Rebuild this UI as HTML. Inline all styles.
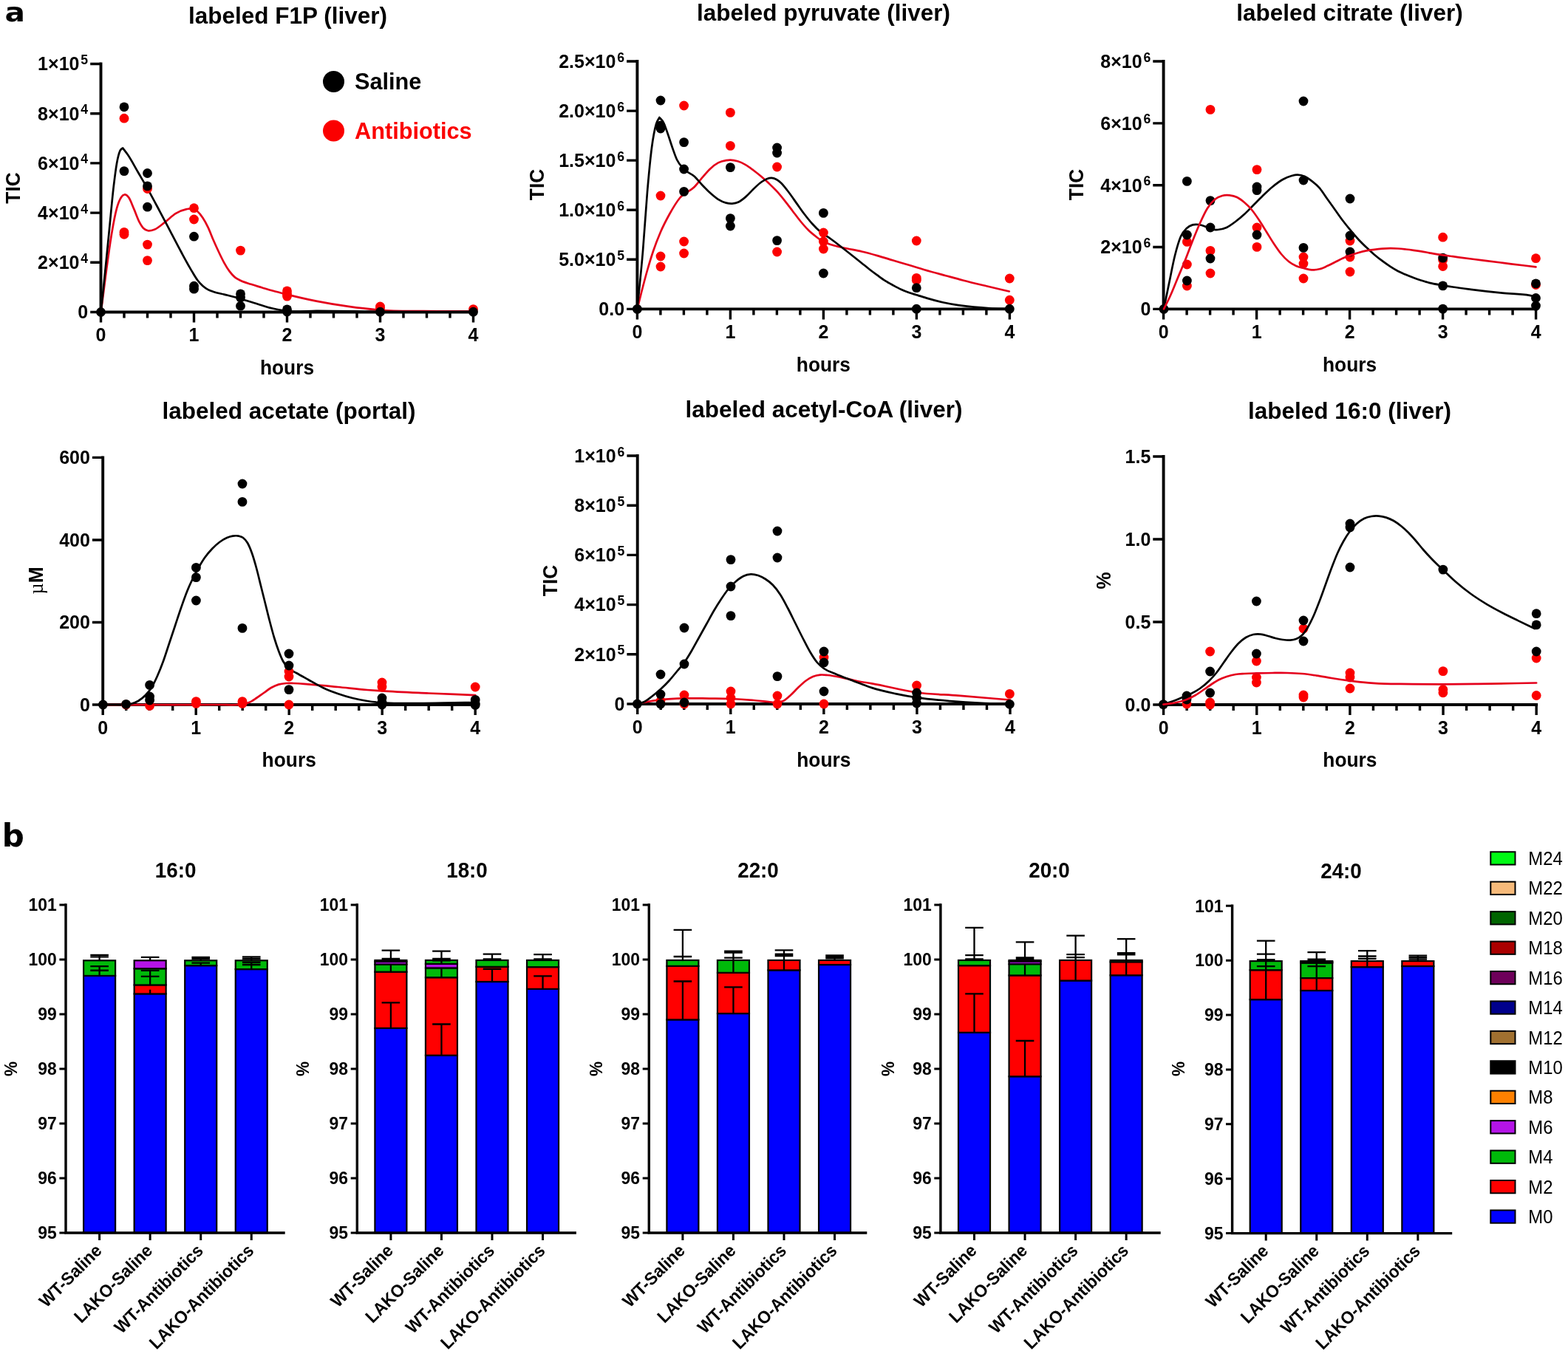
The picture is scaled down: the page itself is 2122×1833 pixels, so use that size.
<!DOCTYPE html>
<html lang="en">
<head>
<meta charset="utf-8">
<title>Figure: labeled metabolites time course and fatty acid labeling</title>
<style>
html,body{margin:0;padding:0;background:#fff;}
body{width:2122px;height:1833px;overflow:hidden;}
svg{display:block;}
text{font-family:"Liberation Sans",Arial,Helvetica,sans-serif;font-weight:bold;fill:#000;}
.t{font-size:31.5px;}
.tb{font-size:29.3px;}
.k{font-size:26.2px;}
.kb{font-size:24px;}
.s{font-size:18.5px;}
.a{font-size:27.6px;}
.r{font-size:23.8px;}
.lg{font-size:30.7px;}
.m{font-size:25px;font-weight:normal;}
.mu{font-family:"Liberation Serif","DejaVu Serif",serif;font-weight:normal;}
.pl{font-family:"DejaVu Sans","Liberation Sans",sans-serif;font-size:37px;}
</style>
</head>
<body>
<svg xmlns="http://www.w3.org/2000/svg" width="2122" height="1833" viewBox="0 0 2122 1833">
<rect x="0" y="0" width="2122" height="1833" fill="#fff"/>
<text transform="translate(6.6 29.3) scale(1.13 1)" class="pl" style="font-size:36px">a</text>
<text transform="translate(2.8 1145.6) scale(1 1)" class="pl" style="font-size:42px">b</text>
<text x="389.5" y="31.8" class="t" text-anchor="middle">labeled F1P (liver)</text>
<path d="M136.5 86.5V422.5H640.5" fill="none" stroke="#000" stroke-width="3.9" stroke-linecap="square" stroke-linejoin="miter"/>
<path d="M122.2 422.5H136.5M122.2 355.3H136.5M122.2 288.1H136.5M122.2 220.9H136.5M122.2 153.7H136.5M122.2 86.5H136.5M136.5 422.5V436.5M168 422.5V430.5M199.5 422.5V430.5M231 422.5V430.5M262.5 422.5V436.5M294 422.5V430.5M325.5 422.5V430.5M357 422.5V430.5M388.5 422.5V436.5M420 422.5V430.5M451.5 422.5V430.5M483 422.5V430.5M514.5 422.5V436.5M546 422.5V430.5M577.5 422.5V430.5M609 422.5V430.5M640.5 422.5V436.5" fill="none" stroke="#000" stroke-width="3.4"/>
<path d="M136.61 422.91C138.93 404.89 141.26 386.02 143.58 368.86C146 350.99 148.43 332.54 150.85 318.01C153.27 303.49 155.69 290.44 158.11 281.69C160.05 274.7 161.99 270.16 163.92 267.17C165.38 264.92 166.83 263.84 168.28 263.54C170.22 263.13 172.15 264.6 174.09 267.17C176.51 270.38 178.93 277.58 181.36 283.15C183.78 288.72 186.2 295.98 188.62 300.58C190.56 304.26 192.49 307.36 194.43 309.3C196.37 311.23 198.31 311.75 200.24 312.2C203.15 312.88 206.05 311.82 208.96 310.75C213.8 308.97 218.64 304.21 223.49 300.58C228.33 296.95 233.17 291.86 238.01 288.96C242.86 286.05 247.7 284.13 252.54 283.15C254.48 282.75 256.42 282.24 258.35 282.42C261.26 282.69 264.16 283.6 267.07 286.05C269.49 288.1 271.91 291.14 274.33 294.77C276.76 298.4 279.18 302.76 281.6 307.85C284.02 312.93 286.44 319.71 288.86 325.28C291.28 330.85 293.7 336.17 296.13 341.26C298.55 346.34 300.97 351.43 303.39 355.79C305.81 360.15 308.23 364.14 310.65 367.41C313.08 370.68 315.5 373.36 317.92 375.4C320.44 377.52 322.95 378.5 325.47 379.76C330.22 382.13 334.96 383.28 339.71 384.84C344.55 386.44 349.39 387.75 354.24 389.2C359.08 390.65 363.92 392.19 368.77 393.56C375.3 395.41 381.84 397.02 388.38 398.64C401.62 401.94 414.87 405.05 428.11 407.68C442.64 410.56 457.17 412.92 471.69 414.94C485.98 416.93 500.27 418.66 514.55 419.73C534.16 421.21 553.78 420.89 573.39 421.19C595.76 421.53 618.14 421.38 640.51 421.48" fill="none" stroke="#e4001c" stroke-width="2.7" stroke-linejoin="round" stroke-linecap="round"/>
<path d="M136.61 422.91C138.45 404.89 140.29 387.07 142.13 368.86C144.07 349.7 146 330.12 147.94 310.75C149.88 291.38 151.82 269.06 153.75 252.64C155.21 240.33 156.66 228.79 158.11 220.68C159.56 212.57 161.02 207.29 162.47 203.97C163.68 201.2 164.89 201.55 166.1 200.34C168.28 203.24 170.46 205.9 172.64 209.06C177.48 216.06 182.32 225.46 187.17 233.75C191.38 240.97 195.59 248.03 199.81 255.54C205.28 265.3 210.75 275.76 216.22 286.05C221.07 295.16 225.91 304.46 230.75 313.66C235.59 322.86 240.44 332.3 245.28 341.26C250.12 350.22 254.96 359.34 259.81 367.41C262.23 371.44 264.65 375.76 267.07 379.03C269.49 382.3 271.91 384.84 274.33 387.02C276.76 389.2 279.18 390.77 281.6 392.11C284.02 393.44 286.44 394.16 288.86 395.01C293.7 396.71 298.55 397.43 303.39 398.64C308.23 399.85 313.08 400.94 317.92 402.28C320.44 402.97 322.95 403.72 325.47 404.46C332.64 406.55 339.81 408.83 346.97 410.99C354.24 413.19 361.5 415.79 368.77 417.53C375.3 419.1 381.84 420.37 388.38 421.16C401.62 422.76 414.87 420.79 428.11 420.75C456.92 420.67 485.74 421.68 514.55 421.91C556.54 422.25 598.52 421.91 640.51 421.91" fill="none" stroke="#000" stroke-width="2.7" stroke-linejoin="round" stroke-linecap="round"/>
<circle cx="168" cy="160.2" r="6.4" fill="#fb0000"/>
<circle cx="168" cy="314.4" r="6.4" fill="#fb0000"/>
<circle cx="168" cy="317.3" r="6.4" fill="#fb0000"/>
<circle cx="199.5" cy="255.5" r="6.4" fill="#fb0000"/>
<circle cx="199.5" cy="331.1" r="6.4" fill="#fb0000"/>
<circle cx="199.5" cy="352.6" r="6.4" fill="#fb0000"/>
<circle cx="262.5" cy="281.7" r="6.4" fill="#fb0000"/>
<circle cx="262.5" cy="297" r="6.4" fill="#fb0000"/>
<circle cx="325.5" cy="339.1" r="6.4" fill="#fb0000"/>
<circle cx="388.5" cy="393.9" r="6.4" fill="#fb0000"/>
<circle cx="388.5" cy="397.5" r="6.4" fill="#fb0000"/>
<circle cx="388.5" cy="401.1" r="6.4" fill="#fb0000"/>
<circle cx="514.5" cy="415" r="6.4" fill="#fb0000"/>
<circle cx="514.5" cy="418" r="6.4" fill="#fb0000"/>
<circle cx="640.5" cy="418.6" r="6.4" fill="#fb0000"/>
<circle cx="136.5" cy="422.5" r="6.4" fill="#000"/>
<circle cx="168" cy="144.8" r="6.4" fill="#000"/>
<circle cx="168" cy="231.6" r="6.4" fill="#000"/>
<circle cx="199.5" cy="234.5" r="6.4" fill="#000"/>
<circle cx="199.5" cy="251.9" r="6.4" fill="#000"/>
<circle cx="199.5" cy="280.2" r="6.4" fill="#000"/>
<circle cx="262.5" cy="320.2" r="6.4" fill="#000"/>
<circle cx="262.5" cy="387.2" r="6.4" fill="#000"/>
<circle cx="262.5" cy="391.2" r="6.4" fill="#000"/>
<circle cx="325.5" cy="397.9" r="6.4" fill="#000"/>
<circle cx="325.5" cy="403" r="6.4" fill="#000"/>
<circle cx="325.5" cy="414.2" r="6.4" fill="#000"/>
<circle cx="388.5" cy="418.8" r="6.4" fill="#000"/>
<circle cx="388.5" cy="422" r="6.4" fill="#000"/>
<circle cx="514.5" cy="422.2" r="6.4" fill="#000"/>
<circle cx="640.5" cy="422.2" r="6.4" fill="#000"/>
<text transform="translate(119.2 431.3) scale(0.955 1)" class="k" text-anchor="end">0</text>
<text transform="translate(119.2 364.1) scale(0.955 1)" class="k" text-anchor="end">2×10<tspan class="s" dx="2" dy="-8.3">4</tspan></text>
<text transform="translate(119.2 296.9) scale(0.955 1)" class="k" text-anchor="end">4×10<tspan class="s" dx="2" dy="-8.3">4</tspan></text>
<text transform="translate(119.2 229.7) scale(0.955 1)" class="k" text-anchor="end">6×10<tspan class="s" dx="2" dy="-8.3">4</tspan></text>
<text transform="translate(119.2 162.5) scale(0.955 1)" class="k" text-anchor="end">8×10<tspan class="s" dx="2" dy="-8.3">4</tspan></text>
<text transform="translate(119.2 95.3) scale(0.955 1)" class="k" text-anchor="end">1×10<tspan class="s" dx="2" dy="-8.3">5</tspan></text>
<text transform="translate(136.5 462) scale(0.955 1)" class="k" text-anchor="middle">0</text>
<text transform="translate(262.5 462) scale(0.955 1)" class="k" text-anchor="middle">1</text>
<text transform="translate(388.5 462) scale(0.955 1)" class="k" text-anchor="middle">2</text>
<text transform="translate(514.5 462) scale(0.955 1)" class="k" text-anchor="middle">3</text>
<text transform="translate(640.5 462) scale(0.955 1)" class="k" text-anchor="middle">4</text>
<text transform="translate(388.5 506.5) scale(0.955 1)" class="a" text-anchor="middle">hours</text>
<text transform="translate(27 254.5) rotate(-90) scale(0.955 1)" class="a" text-anchor="middle">TIC</text>
<text x="1114.5" y="28" class="t" text-anchor="middle">labeled pyruvate (liver)</text>
<path d="M862.4 83V418.4H1366.4" fill="none" stroke="#000" stroke-width="3.9" stroke-linecap="square" stroke-linejoin="miter"/>
<path d="M848.1 418.4H862.4M848.1 351.32H862.4M848.1 284.24H862.4M848.1 217.16H862.4M848.1 150.08H862.4M848.1 83H862.4M862.4 418.4V432.4M893.9 418.4V426.4M925.4 418.4V426.4M956.9 418.4V426.4M988.4 418.4V432.4M1019.9 418.4V426.4M1051.4 418.4V426.4M1082.9 418.4V426.4M1114.4 418.4V432.4M1145.9 418.4V426.4M1177.4 418.4V426.4M1208.9 418.4V426.4M1240.4 418.4V432.4M1271.9 418.4V426.4M1303.4 418.4V426.4M1334.9 418.4V426.4M1366.4 418.4V432.4" fill="none" stroke="#000" stroke-width="3.4"/>
<path d="M862.4 418.4C864.27 410.93 866.13 403.27 868 396C870.67 385.61 873.33 375.33 876 366C878.67 356.67 881.33 347.9 884 340C887.33 330.13 890.67 321.76 894 314C898 304.69 902 297.21 906 290C910.67 281.59 915.33 273.77 920 268C926.67 259.75 933.33 259.78 940 252.8C943.53 249.1 947.07 244.17 950.6 240.1C954.13 236.03 957.67 231.67 961.2 228.4C964.77 225.1 968.33 222.27 971.9 220.4C975.43 218.55 978.97 217.77 982.5 217.2C984.43 216.89 986.37 216.69 988.3 216.7C991.67 216.71 995.03 217.28 998.4 218.3C1001.93 219.37 1005.47 221.07 1009 223.1C1012.53 225.13 1016.07 227.86 1019.6 230.5C1023.17 233.16 1026.73 235.97 1030.3 239C1033.83 242 1037.37 245.23 1040.9 248.6C1044.43 251.97 1047.97 255.32 1051.5 259.2C1055.03 263.08 1058.57 267.48 1062.1 271.9C1065.63 276.32 1069.17 281.1 1072.7 285.7C1076.23 290.3 1079.77 295.22 1083.3 299.5C1086.87 303.82 1090.43 307.99 1094 311.5C1097.53 314.98 1101.07 317.77 1104.6 320.5C1107.83 323 1111.07 325.53 1114.3 327.3C1118.13 329.4 1121.97 330.28 1125.8 331.5C1131.1 333.18 1136.4 334.27 1141.7 335.5C1149.87 337.4 1158.03 338.57 1166.2 340.5C1173.27 342.17 1180.33 344.11 1187.4 346.1C1194.5 348.1 1201.6 350.38 1208.7 352.5C1215.77 354.61 1222.83 356.68 1229.9 358.8C1236.97 360.92 1244.03 363.14 1251.1 365.2C1260.73 368.01 1270.37 370.56 1280 373.2C1287.73 375.32 1295.47 377.49 1303.2 379.5C1313.8 382.26 1324.4 384.76 1335 387.3C1345.27 389.76 1355.53 392.1 1365.8 394.5" fill="none" stroke="#e4001c" stroke-width="2.7" stroke-linejoin="round" stroke-linecap="round"/>
<path d="M862.4 418.4C864.93 392.27 867.47 370.41 870 340C872 316 874 283.33 876 260C878 236.67 880 215.33 882 200C884 184.67 886 174.87 888 168C889.47 162.96 890.93 162 892.4 159C894.27 161.33 896.13 162.39 898 166C900 169.87 902 176.33 904 182C906 187.67 908 194.33 910 200C912 205.67 914 211.68 916 216C919.2 222.92 922.4 225.51 925.6 229C930.4 234.23 935.2 234.53 940 239C943.53 242.29 947.07 246.98 950.6 250.7C954.13 254.42 957.67 258.13 961.2 261.3C964.77 264.5 968.33 267.58 971.9 269.8C975.43 272 978.97 273.66 982.5 274.6C985.33 275.36 988.17 275.78 991 275.6C993.83 275.42 996.67 274.84 999.5 273.5C1002.67 272 1005.83 269.31 1009 266.6C1012.53 263.58 1016.07 259.34 1019.6 256C1023.17 252.63 1026.73 249.02 1030.3 246.5C1032.77 244.76 1035.23 243.13 1037.7 242.2C1039.83 241.39 1041.97 240.81 1044.1 240.9C1046.2 240.99 1048.3 241.62 1050.4 242.7C1052.53 243.8 1054.67 245.53 1056.8 247.5C1060.33 250.76 1063.87 255.7 1067.4 260.3C1070.93 264.9 1074.47 270.17 1078 275.1C1081.57 280.07 1085.13 285.33 1088.7 290C1092.23 294.63 1095.77 299.08 1099.3 303C1102.83 306.92 1106.37 310.46 1109.9 313.5C1114.5 317.45 1119.1 319.66 1123.7 323C1127.23 325.56 1130.77 328.3 1134.3 331C1137.83 333.7 1141.37 336.43 1144.9 339.2C1148.47 342 1152.03 344.85 1155.6 347.7C1159.13 350.52 1162.67 353.37 1166.2 356.2C1169.73 359.03 1173.27 361.97 1176.8 364.7C1180.33 367.43 1183.87 370.03 1187.4 372.6C1190.93 375.17 1194.47 377.84 1198 380.1C1201.57 382.38 1205.13 384.26 1208.7 386.2C1212.23 388.12 1215.77 390.07 1219.3 391.7C1222.83 393.33 1226.37 394.72 1229.9 396C1233.37 397.25 1236.83 398.22 1240.3 399.3C1244.97 400.76 1249.63 402.25 1254.3 403.6C1261.4 405.66 1268.5 407.61 1275.6 409.2C1282.67 410.78 1289.73 412.02 1296.8 413.1C1303.87 414.18 1310.93 415 1318 415.7C1325.1 416.4 1332.2 416.9 1339.3 417.3C1348.3 417.81 1357.3 417.9 1366.3 418.2" fill="none" stroke="#000" stroke-width="2.7" stroke-linejoin="round" stroke-linecap="round"/>
<circle cx="894" cy="265" r="6.4" fill="#fb0000"/>
<circle cx="894" cy="347" r="6.4" fill="#fb0000"/>
<circle cx="894" cy="361" r="6.4" fill="#fb0000"/>
<circle cx="925.6" cy="143" r="6.4" fill="#fb0000"/>
<circle cx="925.6" cy="327" r="6.4" fill="#fb0000"/>
<circle cx="925.6" cy="343" r="6.4" fill="#fb0000"/>
<circle cx="988.4" cy="152.4" r="6.4" fill="#fb0000"/>
<circle cx="988.4" cy="197.4" r="6.4" fill="#fb0000"/>
<circle cx="1051.6" cy="226" r="6.4" fill="#fb0000"/>
<circle cx="1051.6" cy="341" r="6.4" fill="#fb0000"/>
<circle cx="1114.4" cy="315" r="6.4" fill="#fb0000"/>
<circle cx="1114.4" cy="327" r="6.4" fill="#fb0000"/>
<circle cx="1114.4" cy="337" r="6.4" fill="#fb0000"/>
<circle cx="1240.3" cy="326" r="6.4" fill="#fb0000"/>
<circle cx="1240.3" cy="376.4" r="6.4" fill="#fb0000"/>
<circle cx="1240.3" cy="379.3" r="6.4" fill="#fb0000"/>
<circle cx="1366.3" cy="377" r="6.4" fill="#fb0000"/>
<circle cx="1366.3" cy="406.2" r="6.4" fill="#fb0000"/>
<circle cx="862.4" cy="418.4" r="6.4" fill="#000"/>
<circle cx="894" cy="136" r="6.4" fill="#000"/>
<circle cx="894" cy="170" r="6.4" fill="#000"/>
<circle cx="894" cy="174" r="6.4" fill="#000"/>
<circle cx="925.6" cy="192.6" r="6.4" fill="#000"/>
<circle cx="925.6" cy="229" r="6.4" fill="#000"/>
<circle cx="925.6" cy="259.4" r="6.4" fill="#000"/>
<circle cx="988.4" cy="226.6" r="6.4" fill="#000"/>
<circle cx="988.4" cy="295.6" r="6.4" fill="#000"/>
<circle cx="988.4" cy="306" r="6.4" fill="#000"/>
<circle cx="1051.6" cy="200" r="6.4" fill="#000"/>
<circle cx="1051.6" cy="207" r="6.4" fill="#000"/>
<circle cx="1051.6" cy="325.6" r="6.4" fill="#000"/>
<circle cx="1114.4" cy="288.4" r="6.4" fill="#000"/>
<circle cx="1114.4" cy="370" r="6.4" fill="#000"/>
<circle cx="1240.3" cy="389.7" r="6.4" fill="#000"/>
<circle cx="1240.3" cy="418.2" r="6.4" fill="#000"/>
<circle cx="1366.3" cy="418.2" r="6.4" fill="#000"/>
<text transform="translate(845.1 427.2) scale(0.955 1)" class="k" text-anchor="end">0.0</text>
<text transform="translate(845.1 360.12) scale(0.955 1)" class="k" text-anchor="end">5.0×10<tspan class="s" dx="2" dy="-8.3">5</tspan></text>
<text transform="translate(845.1 293.04) scale(0.955 1)" class="k" text-anchor="end">1.0×10<tspan class="s" dx="2" dy="-8.3">6</tspan></text>
<text transform="translate(845.1 225.96) scale(0.955 1)" class="k" text-anchor="end">1.5×10<tspan class="s" dx="2" dy="-8.3">6</tspan></text>
<text transform="translate(845.1 158.88) scale(0.955 1)" class="k" text-anchor="end">2.0×10<tspan class="s" dx="2" dy="-8.3">6</tspan></text>
<text transform="translate(845.1 91.8) scale(0.955 1)" class="k" text-anchor="end">2.5×10<tspan class="s" dx="2" dy="-8.3">6</tspan></text>
<text transform="translate(862.4 457.9) scale(0.955 1)" class="k" text-anchor="middle">0</text>
<text transform="translate(988.4 457.9) scale(0.955 1)" class="k" text-anchor="middle">1</text>
<text transform="translate(1114.4 457.9) scale(0.955 1)" class="k" text-anchor="middle">2</text>
<text transform="translate(1240.4 457.9) scale(0.955 1)" class="k" text-anchor="middle">3</text>
<text transform="translate(1366.4 457.9) scale(0.955 1)" class="k" text-anchor="middle">4</text>
<text transform="translate(1114.4 502.5) scale(0.955 1)" class="a" text-anchor="middle">hours</text>
<text transform="translate(736 250) rotate(-90) scale(0.955 1)" class="a" text-anchor="middle">TIC</text>
<text x="1826.5" y="28" class="t" text-anchor="middle">labeled citrate (liver)</text>
<path d="M1574.6 83V418.4H2078.6" fill="none" stroke="#000" stroke-width="3.9" stroke-linecap="square" stroke-linejoin="miter"/>
<path d="M1560.3 418.4H1574.6M1560.3 334.55H1574.6M1560.3 250.7H1574.6M1560.3 166.85H1574.6M1560.3 83H1574.6M1574.6 418.4V432.4M1606.1 418.4V426.4M1637.6 418.4V426.4M1669.1 418.4V426.4M1700.6 418.4V432.4M1732.1 418.4V426.4M1763.6 418.4V426.4M1795.1 418.4V426.4M1826.6 418.4V432.4M1858.1 418.4V426.4M1889.6 418.4V426.4M1921.1 418.4V426.4M1952.6 418.4V432.4M1984.1 418.4V426.4M2015.6 418.4V426.4M2047.1 418.4V426.4M2078.6 418.4V432.4" fill="none" stroke="#000" stroke-width="3.4"/>
<circle cx="1606.4" cy="327.4" r="6.4" fill="#fb0000"/>
<circle cx="1606.4" cy="358" r="6.4" fill="#fb0000"/>
<circle cx="1606.4" cy="387" r="6.4" fill="#fb0000"/>
<circle cx="1638" cy="148.4" r="6.4" fill="#fb0000"/>
<circle cx="1638" cy="339.4" r="6.4" fill="#fb0000"/>
<circle cx="1638" cy="370" r="6.4" fill="#fb0000"/>
<circle cx="1701" cy="229.6" r="6.4" fill="#fb0000"/>
<circle cx="1701" cy="308" r="6.4" fill="#fb0000"/>
<circle cx="1701" cy="334.4" r="6.4" fill="#fb0000"/>
<circle cx="1764" cy="348" r="6.4" fill="#fb0000"/>
<circle cx="1764" cy="357" r="6.4" fill="#fb0000"/>
<circle cx="1764" cy="377" r="6.4" fill="#fb0000"/>
<circle cx="1827" cy="326" r="6.4" fill="#fb0000"/>
<circle cx="1827" cy="348" r="6.4" fill="#fb0000"/>
<circle cx="1827" cy="368" r="6.4" fill="#fb0000"/>
<circle cx="1952.65" cy="321.2" r="6.4" fill="#fb0000"/>
<circle cx="1952.65" cy="352" r="6.4" fill="#fb0000"/>
<circle cx="1952.65" cy="360.5" r="6.4" fill="#fb0000"/>
<circle cx="2078.5" cy="349.7" r="6.4" fill="#fb0000"/>
<circle cx="2078.5" cy="385.5" r="6.4" fill="#fb0000"/>
<circle cx="1575" cy="418.4" r="6.4" fill="#000"/>
<circle cx="1606.4" cy="245.4" r="6.4" fill="#000"/>
<circle cx="1606.4" cy="318" r="6.4" fill="#000"/>
<circle cx="1606.4" cy="380" r="6.4" fill="#000"/>
<circle cx="1638" cy="271.6" r="6.4" fill="#000"/>
<circle cx="1638" cy="308" r="6.4" fill="#000"/>
<circle cx="1638" cy="350" r="6.4" fill="#000"/>
<circle cx="1701" cy="253" r="6.4" fill="#000"/>
<circle cx="1701" cy="257.6" r="6.4" fill="#000"/>
<circle cx="1701" cy="318" r="6.4" fill="#000"/>
<circle cx="1764" cy="137" r="6.4" fill="#000"/>
<circle cx="1764" cy="244" r="6.4" fill="#000"/>
<circle cx="1764" cy="335.4" r="6.4" fill="#000"/>
<circle cx="1827" cy="269" r="6.4" fill="#000"/>
<circle cx="1827" cy="319" r="6.4" fill="#000"/>
<circle cx="1827" cy="341" r="6.4" fill="#000"/>
<circle cx="1952.65" cy="349.1" r="6.4" fill="#000"/>
<circle cx="1952.65" cy="386.9" r="6.4" fill="#000"/>
<circle cx="1952.65" cy="418.1" r="6.4" fill="#000"/>
<circle cx="2078.5" cy="383.9" r="6.4" fill="#000"/>
<circle cx="2078.5" cy="403.5" r="6.4" fill="#000"/>
<circle cx="2078.5" cy="414.1" r="6.4" fill="#000"/>
<path d="M1575 418.4C1577.33 406.93 1579.67 395.29 1582 384C1584.67 371.1 1587.33 356.67 1590 346C1592.67 335.33 1595.33 326.17 1598 320C1600.67 313.83 1603.33 311.6 1606 309C1608.67 306.4 1611.33 305.23 1614 304.4C1616.67 303.57 1619.33 303.72 1622 304C1625.33 304.35 1628.67 305.58 1632 307C1634 307.85 1636 309.3 1638 310C1641.33 311.17 1644.67 311.2 1648 311C1652 310.76 1656 309.83 1660 308C1664 306.17 1668 303 1672 300C1676 297 1680 293.67 1684 290C1688 286.33 1692 282 1696 278C1700 274 1704 269.87 1708 266C1712.67 261.49 1717.33 256.83 1722 253C1726.67 249.17 1731.33 245.59 1736 243C1740 240.78 1744 239.09 1748 238C1750.67 237.28 1753.33 236.57 1756 236.6C1759.33 236.63 1762.67 237.47 1766 239C1769 240.38 1772 242.6 1775 244.9C1778.53 247.61 1782.07 250.33 1785.6 254.4C1789.13 258.47 1792.67 264.36 1796.2 269.3C1799.77 274.29 1803.33 279.23 1806.9 284.2C1810.43 289.13 1813.97 294.33 1817.5 299C1820.6 303.1 1823.7 306.93 1826.8 310.7C1830.77 315.52 1834.73 320.23 1838.7 324.5C1842.23 328.3 1845.77 331.73 1849.3 335.1C1852.83 338.47 1856.37 341.7 1859.9 344.7C1863.47 347.73 1867.03 350.54 1870.6 353.2C1874.13 355.84 1877.67 358.3 1881.2 360.6C1884.73 362.9 1888.27 365.13 1891.8 367C1895.33 368.87 1898.87 370.3 1902.4 371.8C1905.93 373.3 1909.47 374.69 1913 376C1916.57 377.32 1920.13 378.55 1923.7 379.7C1927.23 380.84 1930.77 381.99 1934.3 382.9C1940.48 384.5 1946.67 385.23 1952.85 386.3C1957.27 387.07 1961.68 387.82 1966.1 388.5C1974.27 389.77 1982.43 390.76 1990.6 391.8C2004.73 393.59 2018.87 395.2 2033 396.6C2045.4 397.82 2057.8 397.65 2070.2 399.8C2072.97 400.28 2075.73 400.87 2078.5 401.4" fill="none" stroke="#000" stroke-width="2.7" stroke-linejoin="round" stroke-linecap="round"/>
<path d="M1575 418.4C1578 412.27 1581 406.64 1584 400C1587.33 392.62 1590.67 384 1594 376C1597.33 368 1600.67 360.33 1604 352C1607.33 343.67 1610.67 334.33 1614 326C1617.33 317.67 1620.67 309.33 1624 302C1627.33 294.67 1630.67 287.33 1634 282C1637.33 276.67 1640.67 272.83 1644 270C1647.33 267.17 1650.67 265.93 1654 265C1657.33 264.07 1660.67 264.07 1664 264.4C1667.33 264.73 1670.67 265.4 1674 267C1677.33 268.6 1680.67 271.17 1684 274C1687.33 276.83 1690.67 280 1694 284C1697.33 288 1700.67 293 1704 298C1707.33 303 1710.67 308.67 1714 314C1717.33 319.33 1720.67 325 1724 330C1727.33 335 1730.67 340 1734 344C1737.33 348 1740.67 351.33 1744 354C1747.33 356.67 1750.67 358.5 1754 360C1757.33 361.5 1760.67 362.13 1764 363C1767.67 363.96 1771.33 365.2 1775 365.4C1778.53 365.59 1782.07 365.18 1785.6 364.3C1789.13 363.42 1792.67 361.67 1796.2 360.1C1799.77 358.51 1803.33 356.58 1806.9 354.8C1810.43 353.04 1813.97 351.09 1817.5 349.5C1820.6 348.1 1823.7 346.83 1826.8 345.7C1830.77 344.25 1834.73 343.1 1838.7 342C1842.23 341.02 1845.77 340.1 1849.3 339.4C1852.83 338.7 1856.37 338.25 1859.9 337.8C1863.47 337.35 1867.03 336.97 1870.6 336.7C1874.13 336.44 1877.67 336.23 1881.2 336.2C1884.73 336.17 1888.27 336.28 1891.8 336.5C1895.33 336.72 1898.87 337.12 1902.4 337.5C1905.93 337.88 1909.47 338.32 1913 338.8C1916.57 339.29 1920.13 339.81 1923.7 340.4C1927.23 340.98 1930.77 341.68 1934.3 342.3C1940.48 343.38 1946.67 344.48 1952.85 345.4C1957.27 346.06 1961.68 346.61 1966.1 347.2C1975.73 348.5 1985.37 349.77 1995 351C2000.6 351.71 2006.2 352.4 2011.8 353.1C2022.87 354.49 2033.93 355.92 2045 357.3C2056.17 358.69 2067.33 360.03 2078.5 361.4" fill="none" stroke="#e4001c" stroke-width="2.7" stroke-linejoin="round" stroke-linecap="round"/>
<text transform="translate(1557.3 427.2) scale(0.955 1)" class="k" text-anchor="end">0</text>
<text transform="translate(1557.3 343.35) scale(0.955 1)" class="k" text-anchor="end">2×10<tspan class="s" dx="2" dy="-8.3">6</tspan></text>
<text transform="translate(1557.3 259.5) scale(0.955 1)" class="k" text-anchor="end">4×10<tspan class="s" dx="2" dy="-8.3">6</tspan></text>
<text transform="translate(1557.3 175.65) scale(0.955 1)" class="k" text-anchor="end">6×10<tspan class="s" dx="2" dy="-8.3">6</tspan></text>
<text transform="translate(1557.3 91.8) scale(0.955 1)" class="k" text-anchor="end">8×10<tspan class="s" dx="2" dy="-8.3">6</tspan></text>
<text transform="translate(1574.6 457.9) scale(0.955 1)" class="k" text-anchor="middle">0</text>
<text transform="translate(1700.6 457.9) scale(0.955 1)" class="k" text-anchor="middle">1</text>
<text transform="translate(1826.6 457.9) scale(0.955 1)" class="k" text-anchor="middle">2</text>
<text transform="translate(1952.6 457.9) scale(0.955 1)" class="k" text-anchor="middle">3</text>
<text transform="translate(2078.6 457.9) scale(0.955 1)" class="k" text-anchor="middle">4</text>
<text transform="translate(1826.6 502.5) scale(0.955 1)" class="a" text-anchor="middle">hours</text>
<text transform="translate(1466 250) rotate(-90) scale(0.955 1)" class="a" text-anchor="middle">TIC</text>
<text x="391" y="567" class="t" text-anchor="middle">labeled acetate (portal)</text>
<path d="M139.2 619.4V954H643.2" fill="none" stroke="#000" stroke-width="3.9" stroke-linecap="square" stroke-linejoin="miter"/>
<path d="M124.9 954H139.2M124.9 842.47H139.2M124.9 730.93H139.2M124.9 619.4H139.2M139.2 954V968M170.7 954V962M202.2 954V962M233.7 954V962M265.2 954V968M296.7 954V962M328.2 954V962M359.7 954V962M391.2 954V968M422.7 954V962M454.2 954V962M485.7 954V962M517.2 954V968M548.7 954V962M580.2 954V962M611.7 954V962M643.2 954V968" fill="none" stroke="#000" stroke-width="3.4"/>
<path d="M139.4 954.2C165.27 954.2 191.13 954.23 217 954.2C243.67 954.17 270.33 954.3 297 954C306.33 953.9 315.67 955.06 325 953.6C329 952.98 333 952.7 337 951C340.33 949.58 343.67 947.17 347 945C350.33 942.83 353.67 940.33 357 938C360.33 935.67 363.67 932.9 367 931C370.33 929.1 373.67 927.6 377 926.6C380.33 925.6 383.67 925.27 387 925C390.33 924.73 393.67 924.92 397 925C403.67 925.16 410.33 925.89 417 926.4C430.33 927.42 443.67 928.73 457 930C470.33 931.27 483.67 932.93 497 934C503.67 934.53 510.33 934.97 517 935.4C538 936.76 559 937.55 580 938.5C601.07 939.45 622.13 940.23 643.2 941.1" fill="none" stroke="#e4001c" stroke-width="2.7" stroke-linejoin="round" stroke-linecap="round"/>
<path d="M139.4 954C145.27 954 151.13 954 157 954C161.53 954 166.07 954.48 170.6 954C172.73 953.77 174.87 953.54 177 953C180.33 952.16 183.67 951 187 949C190.33 947 193.67 944.5 197 941C199.67 938.2 202.33 935.33 205 931C207.67 926.67 210.33 921 213 915C215.67 909 218.33 902.33 221 895C223.67 887.67 226.33 879 229 871C231.67 863 234.33 855 237 847C239.67 839 242.33 830.67 245 823C247.67 815.33 250.33 807.67 253 801C255.67 794.33 258.33 788.5 261 783C263.67 777.5 266.33 772.67 269 768C271.67 763.33 274.33 758.83 277 755C280.33 750.21 283.67 746.5 287 743C290.33 739.5 293.67 736.5 297 734C300.33 731.5 303.67 729.44 307 728C309.67 726.84 312.33 726 315 725.6C317.67 725.2 320.33 724.99 323 725.6C325 726.06 327 726.43 329 728C331 729.57 333 731.5 335 735C337 738.5 339 743.33 341 749C343 754.67 345 761.67 347 769C349 776.33 351 785 353 793C355 801 357 809 359 817C361 825 363 833.33 365 841C367 848.67 369 856.33 371 863C373 869.67 375 875.67 377 881C379 886.33 381 891.26 383 895C385.67 899.98 388.33 902.44 391 905C394.33 908.2 397.67 909.05 401 911C406.33 914.12 411.67 917.03 417 920C423.67 923.71 430.33 927.83 437 931C443.67 934.17 450.33 936.67 457 939C463.67 941.33 470.33 943.33 477 945C483.67 946.67 490.33 947.93 497 949C503.67 950.07 510.33 950.82 517 951.4C531.33 952.64 545.67 951.98 560 952C573.33 952.02 586.67 951.76 600 951.6C614.4 951.43 628.8 951.2 643.2 951" fill="none" stroke="#000" stroke-width="2.7" stroke-linejoin="round" stroke-linecap="round"/>
<circle cx="170.6" cy="954" r="6.4" fill="#fb0000"/>
<circle cx="202.6" cy="955.4" r="6.4" fill="#fb0000"/>
<circle cx="265.4" cy="949.6" r="6.4" fill="#fb0000"/>
<circle cx="265.4" cy="952.4" r="6.4" fill="#fb0000"/>
<circle cx="328" cy="949.6" r="6.4" fill="#fb0000"/>
<circle cx="328" cy="952.4" r="6.4" fill="#fb0000"/>
<circle cx="391" cy="909" r="6.4" fill="#fb0000"/>
<circle cx="391" cy="916" r="6.4" fill="#fb0000"/>
<circle cx="391" cy="954" r="6.4" fill="#fb0000"/>
<circle cx="517" cy="924" r="6.4" fill="#fb0000"/>
<circle cx="517" cy="930" r="6.4" fill="#fb0000"/>
<circle cx="643.2" cy="930" r="6.4" fill="#fb0000"/>
<circle cx="139.4" cy="954" r="6.4" fill="#000"/>
<circle cx="170.6" cy="953.4" r="6.4" fill="#000"/>
<circle cx="202.6" cy="927.4" r="6.4" fill="#000"/>
<circle cx="202.6" cy="943" r="6.4" fill="#000"/>
<circle cx="202.6" cy="948" r="6.4" fill="#000"/>
<circle cx="265.4" cy="768.4" r="6.4" fill="#000"/>
<circle cx="265.4" cy="781.6" r="6.4" fill="#000"/>
<circle cx="265.4" cy="813" r="6.4" fill="#000"/>
<circle cx="328" cy="655" r="6.4" fill="#000"/>
<circle cx="328" cy="679.4" r="6.4" fill="#000"/>
<circle cx="328" cy="850.4" r="6.4" fill="#000"/>
<circle cx="391" cy="885" r="6.4" fill="#000"/>
<circle cx="391" cy="901" r="6.4" fill="#000"/>
<circle cx="391" cy="933.6" r="6.4" fill="#000"/>
<circle cx="517" cy="945" r="6.4" fill="#000"/>
<circle cx="517" cy="951" r="6.4" fill="#000"/>
<circle cx="517" cy="954" r="6.4" fill="#000"/>
<circle cx="643.2" cy="947.4" r="6.4" fill="#000"/>
<circle cx="643.2" cy="952.6" r="6.4" fill="#000"/>
<circle cx="643.2" cy="954.4" r="6.4" fill="#000"/>
<text transform="translate(121.9 962.8) scale(0.955 1)" class="k" text-anchor="end">0</text>
<text transform="translate(121.9 851.27) scale(0.955 1)" class="k" text-anchor="end">200</text>
<text transform="translate(121.9 739.73) scale(0.955 1)" class="k" text-anchor="end">400</text>
<text transform="translate(121.9 628.2) scale(0.955 1)" class="k" text-anchor="end">600</text>
<text transform="translate(139.2 993.5) scale(0.955 1)" class="k" text-anchor="middle">0</text>
<text transform="translate(265.2 993.5) scale(0.955 1)" class="k" text-anchor="middle">1</text>
<text transform="translate(391.2 993.5) scale(0.955 1)" class="k" text-anchor="middle">2</text>
<text transform="translate(517.2 993.5) scale(0.955 1)" class="k" text-anchor="middle">3</text>
<text transform="translate(643.2 993.5) scale(0.955 1)" class="k" text-anchor="middle">4</text>
<text transform="translate(391.2 1038) scale(0.955 1)" class="a" text-anchor="middle">hours</text>
<text transform="translate(58 786) rotate(-90) scale(0.955 1)" class="a" text-anchor="middle"><tspan class="mu">µ</tspan>M</text>
<text x="1115" y="565" class="t" text-anchor="middle">labeled acetyl-CoA (liver)</text>
<path d="M862.7 617V953H1367" fill="none" stroke="#000" stroke-width="3.9" stroke-linecap="square" stroke-linejoin="miter"/>
<path d="M848.4 953H862.7M848.4 885.8H862.7M848.4 818.6H862.7M848.4 751.4H862.7M848.4 684.2H862.7M848.4 617H862.7M862.7 953V967M894.22 953V961M925.74 953V961M957.26 953V961M988.78 953V967M1020.29 953V961M1051.81 953V961M1083.33 953V961M1114.85 953V967M1146.37 953V961M1177.89 953V961M1209.41 953V961M1240.92 953V967M1272.44 953V961M1303.96 953V961M1335.48 953V961M1367 953V967" fill="none" stroke="#000" stroke-width="3.4"/>
<path d="M862.4 953C866.93 952 871.47 950.85 876 950C882 948.87 888 948.09 894 947.4C904.67 946.17 915.33 945.71 926 945.4C937.33 945.07 948.67 945.48 960 945.6C969.67 945.7 979.33 945.63 989 946C999.33 946.4 1009.67 947.11 1020 948C1026.67 948.57 1033.33 949.4 1040 950C1044 950.36 1048 951.47 1052 951C1054.67 950.69 1057.33 950.32 1060 949C1063.33 947.35 1066.67 944 1070 941C1073.33 938 1076.67 934.17 1080 931C1083.33 927.83 1086.67 924.5 1090 922C1093.33 919.5 1096.67 917.4 1100 916C1103.33 914.6 1106.67 913.93 1110 913.6C1113.33 913.27 1116.67 913.72 1120 914C1126.67 914.56 1133.33 916.07 1140 917.4C1146.67 918.73 1153.33 920.68 1160 922C1166.67 923.32 1173.33 924.14 1180 925.3C1200.33 928.83 1220.67 934.76 1241 937.5C1259.6 940.01 1278.2 940.24 1296.8 941.7C1320.2 943.54 1343.6 945.57 1367 947.5" fill="none" stroke="#e4001c" stroke-width="2.7" stroke-linejoin="round" stroke-linecap="round"/>
<path d="M862.4 953C865.6 952 868.8 951.61 872 950C875.33 948.33 878.67 945.54 882 943C886 939.96 890 936.67 894 933C898 929.33 902 925.44 906 921C909.33 917.3 912.67 913 916 909C919.33 905 922.67 901.67 926 897C929.33 892.33 932.67 886.67 936 881C939.33 875.33 942.67 869 946 863C949.33 857 952.67 851 956 845C959.33 839 962.67 832.67 966 827C969.33 821.33 972.67 816 976 811C979.33 806 982.67 801 986 797C989.33 793 992.67 789.83 996 787C999.33 784.17 1002.67 781.6 1006 780C1009.33 778.4 1012.67 777.57 1016 777.4C1019.33 777.23 1022.67 777.9 1026 779C1029.33 780.1 1032.67 781.83 1036 784C1039.33 786.17 1042.67 788.5 1046 792C1049.33 795.5 1052.67 799.83 1056 805C1059.33 810.17 1062.67 816.67 1066 823C1069.33 829.33 1072.67 836.33 1076 843C1079.33 849.67 1082.67 856.5 1086 863C1089.33 869.5 1092.67 876.33 1096 882C1099.33 887.67 1102.67 893.07 1106 897C1109 900.54 1112 902.81 1115 905C1120 908.65 1125 909.81 1130 912C1136.67 914.92 1143.33 917.43 1150 920C1155.33 922.06 1160.67 924.03 1166 926C1170.67 927.72 1175.33 929.56 1180 931.1C1190.63 934.61 1201.27 936.82 1211.9 939.1C1221.6 941.18 1231.3 942.93 1241 944.4C1256.07 946.68 1271.13 947.85 1286.2 949.1C1300.37 950.28 1314.53 951.14 1328.7 951.8C1341.47 952.39 1354.23 952.6 1367 953" fill="none" stroke="#000" stroke-width="2.7" stroke-linejoin="round" stroke-linecap="round"/>
<circle cx="894" cy="949" r="6.4" fill="#fb0000"/>
<circle cx="926" cy="941" r="6.4" fill="#fb0000"/>
<circle cx="926" cy="953" r="6.4" fill="#fb0000"/>
<circle cx="989" cy="936" r="6.4" fill="#fb0000"/>
<circle cx="989" cy="945" r="6.4" fill="#fb0000"/>
<circle cx="989" cy="953" r="6.4" fill="#fb0000"/>
<circle cx="1052" cy="942" r="6.4" fill="#fb0000"/>
<circle cx="1052" cy="953" r="6.4" fill="#fb0000"/>
<circle cx="1115" cy="890" r="6.4" fill="#fb0000"/>
<circle cx="1115" cy="953" r="6.4" fill="#fb0000"/>
<circle cx="1240.6" cy="928" r="6.4" fill="#fb0000"/>
<circle cx="1366.4" cy="939.4" r="6.4" fill="#fb0000"/>
<circle cx="862.4" cy="953" r="6.4" fill="#000"/>
<circle cx="894" cy="913" r="6.4" fill="#000"/>
<circle cx="894" cy="940" r="6.4" fill="#000"/>
<circle cx="894" cy="953" r="6.4" fill="#000"/>
<circle cx="926" cy="850" r="6.4" fill="#000"/>
<circle cx="926" cy="899" r="6.4" fill="#000"/>
<circle cx="926" cy="951" r="6.4" fill="#000"/>
<circle cx="989" cy="757.6" r="6.4" fill="#000"/>
<circle cx="989" cy="794" r="6.4" fill="#000"/>
<circle cx="989" cy="833.6" r="6.4" fill="#000"/>
<circle cx="1052" cy="719" r="6.4" fill="#000"/>
<circle cx="1052" cy="755" r="6.4" fill="#000"/>
<circle cx="1052" cy="915.6" r="6.4" fill="#000"/>
<circle cx="1115" cy="882" r="6.4" fill="#000"/>
<circle cx="1115" cy="897" r="6.4" fill="#000"/>
<circle cx="1115" cy="936" r="6.4" fill="#000"/>
<circle cx="1240.6" cy="938" r="6.4" fill="#000"/>
<circle cx="1240.6" cy="945" r="6.4" fill="#000"/>
<circle cx="1240.6" cy="952" r="6.4" fill="#000"/>
<circle cx="1366.4" cy="953.3" r="6.4" fill="#000"/>
<text transform="translate(845.4 961.8) scale(0.955 1)" class="k" text-anchor="end">0</text>
<text transform="translate(845.4 894.6) scale(0.955 1)" class="k" text-anchor="end">2×10<tspan class="s" dx="2" dy="-8.3">5</tspan></text>
<text transform="translate(845.4 827.4) scale(0.955 1)" class="k" text-anchor="end">4×10<tspan class="s" dx="2" dy="-8.3">5</tspan></text>
<text transform="translate(845.4 760.2) scale(0.955 1)" class="k" text-anchor="end">6×10<tspan class="s" dx="2" dy="-8.3">5</tspan></text>
<text transform="translate(845.4 693) scale(0.955 1)" class="k" text-anchor="end">8×10<tspan class="s" dx="2" dy="-8.3">5</tspan></text>
<text transform="translate(845.4 625.8) scale(0.955 1)" class="k" text-anchor="end">1×10<tspan class="s" dx="2" dy="-8.3">6</tspan></text>
<text transform="translate(862.7 992.5) scale(0.955 1)" class="k" text-anchor="middle">0</text>
<text transform="translate(988.78 992.5) scale(0.955 1)" class="k" text-anchor="middle">1</text>
<text transform="translate(1114.85 992.5) scale(0.955 1)" class="k" text-anchor="middle">2</text>
<text transform="translate(1240.92 992.5) scale(0.955 1)" class="k" text-anchor="middle">3</text>
<text transform="translate(1367 992.5) scale(0.955 1)" class="k" text-anchor="middle">4</text>
<text transform="translate(1114.85 1038) scale(0.955 1)" class="a" text-anchor="middle">hours</text>
<text transform="translate(754 786) rotate(-90) scale(0.955 1)" class="a" text-anchor="middle">TIC</text>
<text x="1826.5" y="567" class="t" text-anchor="middle">labeled 16:0 (liver)</text>
<path d="M1574.6 618V954H2079.2" fill="none" stroke="#000" stroke-width="3.9" stroke-linecap="square" stroke-linejoin="miter"/>
<path d="M1560.3 954H1574.6M1560.3 842H1574.6M1560.3 730H1574.6M1560.3 618H1574.6M1574.6 954V968M1606.14 954V962M1637.67 954V962M1669.21 954V962M1700.75 954V968M1732.29 954V962M1763.82 954V962M1795.36 954V962M1826.9 954V968M1858.44 954V962M1889.97 954V962M1921.51 954V962M1953.05 954V968M1984.59 954V962M2016.12 954V962M2047.66 954V962M2079.2 954V968" fill="none" stroke="#000" stroke-width="3.4"/>
<circle cx="1606" cy="953" r="6.4" fill="#fb0000"/>
<circle cx="1637.6" cy="882" r="6.4" fill="#fb0000"/>
<circle cx="1637.6" cy="951" r="6.4" fill="#fb0000"/>
<circle cx="1637.6" cy="954" r="6.4" fill="#fb0000"/>
<circle cx="1700.4" cy="895" r="6.4" fill="#fb0000"/>
<circle cx="1700.4" cy="917" r="6.4" fill="#fb0000"/>
<circle cx="1700.4" cy="924" r="6.4" fill="#fb0000"/>
<circle cx="1764" cy="851" r="6.4" fill="#fb0000"/>
<circle cx="1764" cy="941" r="6.4" fill="#fb0000"/>
<circle cx="1764" cy="944" r="6.4" fill="#fb0000"/>
<circle cx="1827" cy="911" r="6.4" fill="#fb0000"/>
<circle cx="1827" cy="917" r="6.4" fill="#fb0000"/>
<circle cx="1827" cy="932" r="6.4" fill="#fb0000"/>
<circle cx="1952.9" cy="908.6" r="6.4" fill="#fb0000"/>
<circle cx="1952.9" cy="933.5" r="6.4" fill="#fb0000"/>
<circle cx="1952.9" cy="937.8" r="6.4" fill="#fb0000"/>
<circle cx="2079.2" cy="891" r="6.4" fill="#fb0000"/>
<circle cx="2079.2" cy="941.5" r="6.4" fill="#fb0000"/>
<circle cx="1574.4" cy="953.6" r="6.4" fill="#000"/>
<circle cx="1606" cy="942" r="6.4" fill="#000"/>
<circle cx="1606" cy="947" r="6.4" fill="#000"/>
<circle cx="1637.6" cy="909" r="6.4" fill="#000"/>
<circle cx="1637.6" cy="938" r="6.4" fill="#000"/>
<circle cx="1700.4" cy="814" r="6.4" fill="#000"/>
<circle cx="1700.4" cy="885" r="6.4" fill="#000"/>
<circle cx="1764" cy="840" r="6.4" fill="#000"/>
<circle cx="1764" cy="868" r="6.4" fill="#000"/>
<circle cx="1827" cy="709" r="6.4" fill="#000"/>
<circle cx="1827" cy="714" r="6.4" fill="#000"/>
<circle cx="1827" cy="768" r="6.4" fill="#000"/>
<circle cx="1952.9" cy="771.1" r="6.4" fill="#000"/>
<circle cx="2079.2" cy="830.7" r="6.4" fill="#000"/>
<circle cx="2079.2" cy="845.9" r="6.4" fill="#000"/>
<circle cx="2079.2" cy="882" r="6.4" fill="#000"/>
<path d="M1574.4 953.6C1578.93 952.07 1583.47 950.72 1588 949C1592 947.48 1596 945.67 1600 944C1604 942.33 1608 941 1612 939C1616 937 1620 934.83 1624 932C1628 929.17 1632 925.92 1636 922C1639.33 918.74 1642.67 915.17 1646 911C1649.33 906.83 1652.67 901.67 1656 897C1659.33 892.33 1662.67 887.33 1666 883C1669.33 878.67 1672.67 874.33 1676 871C1679.33 867.67 1682.67 865 1686 863C1689.33 861 1692.67 859.73 1696 859C1699.33 858.27 1702.67 858.27 1706 858.6C1709.33 858.93 1712.67 860.1 1716 861C1719.33 861.9 1722.67 863.17 1726 864C1729.33 864.83 1732.67 865.57 1736 866C1739.33 866.43 1742.67 866.88 1746 866.6C1748.67 866.37 1751.33 866.1 1754 865C1756.67 863.9 1759.33 862.67 1762 860C1764.67 857.33 1767.33 853.5 1770 849C1772.67 844.5 1775.33 839 1778 833C1780.67 827 1783.33 820 1786 813C1788.67 806 1791.33 798.33 1794 791C1796.67 783.67 1799.33 776 1802 769C1804.67 762 1807.33 755 1810 749C1812.67 743 1815.33 737.78 1818 733C1821 727.63 1824 723 1827 719C1830 715 1833 711.75 1836 709C1839.33 705.95 1842.67 703.67 1846 702C1849.33 700.33 1852.67 699.57 1856 699C1859.33 698.43 1862.67 698.33 1866 698.6C1869.33 698.87 1872.67 699.53 1876 700.6C1879.33 701.67 1882.67 703.1 1886 705C1889.33 706.9 1892.67 709.33 1896 712C1899.33 714.67 1902.67 717.67 1906 721C1909.33 724.33 1912.67 728.17 1916 732C1919.33 735.83 1922.67 740.17 1926 744C1929.33 747.83 1932.67 751.5 1936 755C1939.33 758.5 1942.67 761.78 1946 765C1948.3 767.22 1950.6 769.33 1952.9 771.5C1958.37 776.65 1963.83 782.18 1969.3 787C1976.4 793.26 1983.5 798.86 1990.6 804C1997.67 809.12 2004.73 813.55 2011.8 817.8C2018.87 822.05 2025.93 825.79 2033 829.5C2040.1 833.23 2047.2 836.63 2054.3 840.1C2061.87 843.8 2069.43 847.37 2077 851" fill="none" stroke="#000" stroke-width="2.7" stroke-linejoin="round" stroke-linecap="round"/>
<path d="M1574.4 953.6C1580.27 952.73 1586.13 952.32 1592 951C1596.67 949.95 1601.33 948.87 1606 947C1610 945.4 1614 943.33 1618 941C1622 938.67 1626 935.74 1630 933C1633.33 930.72 1636.67 928.17 1640 926C1643.33 923.83 1646.67 921.67 1650 920C1653.33 918.33 1656.67 917.11 1660 916C1664 914.67 1668 913.67 1672 913C1676 912.33 1680 912.25 1684 912C1689.47 911.65 1694.93 911.56 1700.4 911.4C1707.6 911.19 1714.8 911.06 1722 911C1728.67 910.94 1735.33 910.83 1742 911C1748.67 911.17 1755.33 911.4 1762 912C1768.67 912.6 1775.33 913.6 1782 914.6C1788.67 915.6 1795.33 916.94 1802 918C1810.33 919.32 1818.67 920.53 1827 921.6C1835.33 922.67 1843.67 923.71 1852 924.4C1862 925.22 1872 925.61 1882 925.8C1886.33 925.88 1890.67 925.87 1895 925.9C1914.3 926.05 1933.6 926.33 1952.9 926.3C1968.6 926.28 1984.3 926.09 2000 925.9C2026.4 925.59 2052.8 924.97 2079.2 924.5" fill="none" stroke="#e4001c" stroke-width="2.7" stroke-linejoin="round" stroke-linecap="round"/>
<text transform="translate(1557.3 962.8) scale(0.955 1)" class="k" text-anchor="end">0.0</text>
<text transform="translate(1557.3 850.8) scale(0.955 1)" class="k" text-anchor="end">0.5</text>
<text transform="translate(1557.3 738.8) scale(0.955 1)" class="k" text-anchor="end">1.0</text>
<text transform="translate(1557.3 626.8) scale(0.955 1)" class="k" text-anchor="end">1.5</text>
<text transform="translate(1574.6 993.5) scale(0.955 1)" class="k" text-anchor="middle">0</text>
<text transform="translate(1700.75 993.5) scale(0.955 1)" class="k" text-anchor="middle">1</text>
<text transform="translate(1826.9 993.5) scale(0.955 1)" class="k" text-anchor="middle">2</text>
<text transform="translate(1953.05 993.5) scale(0.955 1)" class="k" text-anchor="middle">3</text>
<text transform="translate(2079.2 993.5) scale(0.955 1)" class="k" text-anchor="middle">4</text>
<text transform="translate(1826.9 1038) scale(0.955 1)" class="a" text-anchor="middle">hours</text>
<text transform="translate(1503 786) rotate(-90) scale(0.955 1)" class="a" text-anchor="middle">%</text>
<circle cx="451.5" cy="110.5" r="14.5" fill="#000"/>
<text x="480" y="121" class="lg" style="fill:#000">Saline</text>
<circle cx="451.5" cy="177" r="14.5" fill="#fb0000"/>
<text x="480" y="187.5" class="lg" style="fill:#fb0000">Antibiotics</text>
<text transform="translate(237.6 1188) scale(0.95 1)" class="tb" text-anchor="middle">16:0</text>
<rect x="113.1" y="1320.96" width="43" height="348.04" fill="#0000ff" stroke="#000" stroke-width="2.2"/>
<rect x="113.1" y="1300.27" width="43" height="20.7" fill="#00b90a" stroke="#000" stroke-width="2.2"/>
<path d="M134.6 1300.27V1292.87M122.3 1292.87H146.9M134.6 1300.27V1295.34M122.3 1295.34H146.9M134.6 1320.96V1308.15M122.3 1308.15H146.9M134.6 1320.96V1313.73M122.3 1313.73H146.9" fill="none" stroke="#000" stroke-width="2.3"/>
<rect x="181.65" y="1345.43" width="43" height="323.57" fill="#0000ff" stroke="#000" stroke-width="2.2"/>
<rect x="181.65" y="1333.44" width="43" height="11.99" fill="#ff0000" stroke="#000" stroke-width="2.2"/>
<rect x="181.65" y="1311.27" width="43" height="22.17" fill="#00b90a" stroke="#000" stroke-width="2.2"/>
<rect x="181.65" y="1300.27" width="43" height="11" fill="#b414e6" stroke="#000" stroke-width="2.2"/>
<path d="M203.15 1300.27V1295.83M190.85 1295.83H215.45M203.15 1333.44V1313.9M190.85 1313.9H215.45M203.15 1333.44V1321.95M190.85 1321.95H215.45M203.15 1345.43V1339.69" fill="none" stroke="#000" stroke-width="2.3"/>
<rect x="250.2" y="1307.16" width="43" height="361.84" fill="#0000ff" stroke="#000" stroke-width="2.2"/>
<rect x="250.2" y="1300.27" width="43" height="6.9" fill="#00b90a" stroke="#000" stroke-width="2.2"/>
<path d="M271.7 1300.27V1295.83M259.4 1295.83H284M271.7 1300.27V1297.8M259.4 1297.8H284M271.7 1307.16V1303.55M259.4 1303.55H284" fill="none" stroke="#000" stroke-width="2.3"/>
<rect x="318.75" y="1312.09" width="43" height="356.91" fill="#0000ff" stroke="#000" stroke-width="2.2"/>
<rect x="318.75" y="1300.27" width="43" height="11.83" fill="#00b90a" stroke="#000" stroke-width="2.2"/>
<path d="M340.25 1300.27V1295.34M327.95 1295.34H352.55M340.25 1300.27V1297.8M327.95 1297.8H352.55M340.25 1312.09V1302.73M327.95 1302.73H352.55M340.25 1312.09V1306.01M327.95 1306.01H352.55" fill="none" stroke="#000" stroke-width="2.3"/>
<path d="M89 1225V1669H384" fill="none" stroke="#000" stroke-width="3.4" stroke-linecap="square"/>
<text transform="translate(76.8 1677.3) scale(0.955 1)" class="kb" text-anchor="end">95</text>
<text transform="translate(76.8 1603.3) scale(0.955 1)" class="kb" text-anchor="end">96</text>
<text transform="translate(76.8 1529.3) scale(0.955 1)" class="kb" text-anchor="end">97</text>
<text transform="translate(76.8 1455.3) scale(0.955 1)" class="kb" text-anchor="end">98</text>
<text transform="translate(76.8 1381.3) scale(0.955 1)" class="kb" text-anchor="end">99</text>
<text transform="translate(76.8 1307.3) scale(0.955 1)" class="kb" text-anchor="end">100</text>
<text transform="translate(76.8 1233.3) scale(0.955 1)" class="kb" text-anchor="end">101</text>
<text transform="translate(139.2 1694.6) rotate(-45) scale(0.95 1)" class="r" text-anchor="end">WT-Saline</text>
<text transform="translate(207.75 1694.6) rotate(-45) scale(0.95 1)" class="r" text-anchor="end">LAKO-Saline</text>
<text transform="translate(276.3 1694.6) rotate(-45) scale(0.95 1)" class="r" text-anchor="end">WT-Antibiotics</text>
<text transform="translate(344.85 1694.6) rotate(-45) scale(0.95 1)" class="r" text-anchor="end">LAKO-Antibiotics</text>
<path d="M80.4 1669H89M80.4 1595H89M80.4 1521H89M80.4 1447H89M80.4 1373H89M80.4 1299H89M80.4 1225H89M134.6 1669V1679M203.15 1669V1679M271.7 1669V1679M340.25 1669V1679" fill="none" stroke="#000" stroke-width="3"/>
<text transform="translate(22.5 1447) rotate(-90) scale(0.95 1)" class="r" text-anchor="middle">%</text>
<text transform="translate(632 1188) scale(0.95 1)" class="tb" text-anchor="middle">18:0</text>
<rect x="507.4" y="1391.92" width="43" height="277.08" fill="#0000ff" stroke="#000" stroke-width="2.2"/>
<rect x="507.4" y="1315.71" width="43" height="76.21" fill="#ff0000" stroke="#000" stroke-width="2.2"/>
<rect x="507.4" y="1305.52" width="43" height="10.18" fill="#00b90a" stroke="#000" stroke-width="2.2"/>
<rect x="507.4" y="1301.91" width="43" height="3.61" fill="#b414e6" stroke="#000" stroke-width="2.2"/>
<rect x="507.4" y="1299.94" width="43" height="1.97" fill="#00b90a" stroke="#000" stroke-width="2.2"/>
<path d="M528.9 1299.94V1286.63M516.6 1286.63H541.2M528.9 1299.94V1297.8M516.6 1297.8H541.2M528.9 1391.92V1357.43M516.6 1357.43H541.2M528.9 1315.71V1305.52" fill="none" stroke="#000" stroke-width="2.3"/>
<rect x="575.95" y="1428.71" width="43" height="240.29" fill="#0000ff" stroke="#000" stroke-width="2.2"/>
<rect x="575.95" y="1323.26" width="43" height="105.45" fill="#ff0000" stroke="#000" stroke-width="2.2"/>
<rect x="575.95" y="1310.45" width="43" height="12.81" fill="#00b90a" stroke="#000" stroke-width="2.2"/>
<rect x="575.95" y="1304.86" width="43" height="5.58" fill="#b414e6" stroke="#000" stroke-width="2.2"/>
<rect x="575.95" y="1299.94" width="43" height="4.93" fill="#00b90a" stroke="#000" stroke-width="2.2"/>
<path d="M597.45 1299.94V1287.62M585.15 1287.62H609.75M597.45 1299.94V1297.8M585.15 1297.8H609.75M597.45 1304.86V1300.27M585.15 1300.27H609.75M597.45 1428.71V1386.5M585.15 1386.5H609.75M597.45 1323.26V1310.45" fill="none" stroke="#000" stroke-width="2.3"/>
<rect x="644.5" y="1329.01" width="43" height="339.99" fill="#0000ff" stroke="#000" stroke-width="2.2"/>
<rect x="644.5" y="1308.81" width="43" height="20.2" fill="#ff0000" stroke="#000" stroke-width="2.2"/>
<rect x="644.5" y="1299.94" width="43" height="8.87" fill="#00b90a" stroke="#000" stroke-width="2.2"/>
<path d="M666 1299.94V1291.56M653.7 1291.56H678.3M666 1299.94V1298.29M653.7 1298.29H678.3M666 1329.01V1311.76M653.7 1311.76H678.3" fill="none" stroke="#000" stroke-width="2.3"/>
<rect x="713.05" y="1338.86" width="43" height="330.14" fill="#0000ff" stroke="#000" stroke-width="2.2"/>
<rect x="713.05" y="1309.14" width="43" height="29.73" fill="#ff0000" stroke="#000" stroke-width="2.2"/>
<rect x="713.05" y="1299.94" width="43" height="9.2" fill="#00b90a" stroke="#000" stroke-width="2.2"/>
<path d="M734.55 1299.94V1292.05M722.25 1292.05H746.85M734.55 1299.94V1298.29M722.25 1298.29H746.85M734.55 1338.86V1321.29M722.25 1321.29H746.85" fill="none" stroke="#000" stroke-width="2.3"/>
<path d="M483.3 1225V1669H778.2" fill="none" stroke="#000" stroke-width="3.4" stroke-linecap="square"/>
<text transform="translate(471.1 1677.3) scale(0.955 1)" class="kb" text-anchor="end">95</text>
<text transform="translate(471.1 1603.3) scale(0.955 1)" class="kb" text-anchor="end">96</text>
<text transform="translate(471.1 1529.3) scale(0.955 1)" class="kb" text-anchor="end">97</text>
<text transform="translate(471.1 1455.3) scale(0.955 1)" class="kb" text-anchor="end">98</text>
<text transform="translate(471.1 1381.3) scale(0.955 1)" class="kb" text-anchor="end">99</text>
<text transform="translate(471.1 1307.3) scale(0.955 1)" class="kb" text-anchor="end">100</text>
<text transform="translate(471.1 1233.3) scale(0.955 1)" class="kb" text-anchor="end">101</text>
<text transform="translate(533.5 1694.6) rotate(-45) scale(0.95 1)" class="r" text-anchor="end">WT-Saline</text>
<text transform="translate(602.05 1694.6) rotate(-45) scale(0.95 1)" class="r" text-anchor="end">LAKO-Saline</text>
<text transform="translate(670.6 1694.6) rotate(-45) scale(0.95 1)" class="r" text-anchor="end">WT-Antibiotics</text>
<text transform="translate(739.15 1694.6) rotate(-45) scale(0.95 1)" class="r" text-anchor="end">LAKO-Antibiotics</text>
<path d="M474.7 1669H483.3M474.7 1595H483.3M474.7 1521H483.3M474.7 1447H483.3M474.7 1373H483.3M474.7 1299H483.3M474.7 1225H483.3M528.9 1669V1679M597.45 1669V1679M666 1669V1679M734.55 1669V1679" fill="none" stroke="#000" stroke-width="3"/>
<text transform="translate(418 1447) rotate(-90) scale(0.95 1)" class="r" text-anchor="middle">%</text>
<text transform="translate(1026 1188) scale(0.95 1)" class="tb" text-anchor="middle">22:0</text>
<rect x="902.4" y="1380.42" width="43" height="288.58" fill="#0000ff" stroke="#000" stroke-width="2.2"/>
<rect x="902.4" y="1307.82" width="43" height="72.6" fill="#ff0000" stroke="#000" stroke-width="2.2"/>
<rect x="902.4" y="1299.94" width="43" height="7.88" fill="#00b90a" stroke="#000" stroke-width="2.2"/>
<path d="M923.9 1299.94V1258.87M911.6 1258.87H936.2M923.9 1299.94V1295.01M911.6 1295.01H936.2M923.9 1380.42V1328.52M911.6 1328.52H936.2" fill="none" stroke="#000" stroke-width="2.3"/>
<rect x="970.95" y="1372.04" width="43" height="296.96" fill="#0000ff" stroke="#000" stroke-width="2.2"/>
<rect x="970.95" y="1316.86" width="43" height="55.19" fill="#ff0000" stroke="#000" stroke-width="2.2"/>
<rect x="970.95" y="1299.94" width="43" height="16.92" fill="#00b90a" stroke="#000" stroke-width="2.2"/>
<path d="M992.45 1299.94V1287.62M980.15 1287.62H1004.75M992.45 1299.94V1289.59M980.15 1289.59H1004.75M992.45 1299.94V1296.65M980.15 1296.65H1004.75M992.45 1372.04V1336.4M980.15 1336.4H1004.75M992.45 1316.86V1299.94" fill="none" stroke="#000" stroke-width="2.3"/>
<rect x="1039.5" y="1313.41" width="43" height="355.59" fill="#0000ff" stroke="#000" stroke-width="2.2"/>
<rect x="1039.5" y="1299.94" width="43" height="13.47" fill="#ff0000" stroke="#000" stroke-width="2.2"/>
<path d="M1061 1313.41V1286.3M1048.7 1286.3H1073.3M1061 1299.94V1291.72M1048.7 1291.72H1073.3M1061 1299.94V1294.02M1048.7 1294.02H1073.3" fill="none" stroke="#000" stroke-width="2.3"/>
<rect x="1108.05" y="1306.01" width="43" height="362.99" fill="#0000ff" stroke="#000" stroke-width="2.2"/>
<rect x="1108.05" y="1299.94" width="43" height="6.08" fill="#ff0000" stroke="#000" stroke-width="2.2"/>
<path d="M1129.55 1299.94V1293.37M1117.25 1293.37H1141.85M1129.55 1299.94V1295.34M1117.25 1295.34H1141.85M1129.55 1299.94V1297.31M1117.25 1297.31H1141.85" fill="none" stroke="#000" stroke-width="2.3"/>
<path d="M878.3 1225V1669H1171.6" fill="none" stroke="#000" stroke-width="3.4" stroke-linecap="square"/>
<text transform="translate(866.1 1677.3) scale(0.955 1)" class="kb" text-anchor="end">95</text>
<text transform="translate(866.1 1603.3) scale(0.955 1)" class="kb" text-anchor="end">96</text>
<text transform="translate(866.1 1529.3) scale(0.955 1)" class="kb" text-anchor="end">97</text>
<text transform="translate(866.1 1455.3) scale(0.955 1)" class="kb" text-anchor="end">98</text>
<text transform="translate(866.1 1381.3) scale(0.955 1)" class="kb" text-anchor="end">99</text>
<text transform="translate(866.1 1307.3) scale(0.955 1)" class="kb" text-anchor="end">100</text>
<text transform="translate(866.1 1233.3) scale(0.955 1)" class="kb" text-anchor="end">101</text>
<text transform="translate(928.5 1694.6) rotate(-45) scale(0.95 1)" class="r" text-anchor="end">WT-Saline</text>
<text transform="translate(997.05 1694.6) rotate(-45) scale(0.95 1)" class="r" text-anchor="end">LAKO-Saline</text>
<text transform="translate(1065.6 1694.6) rotate(-45) scale(0.95 1)" class="r" text-anchor="end">WT-Antibiotics</text>
<text transform="translate(1134.15 1694.6) rotate(-45) scale(0.95 1)" class="r" text-anchor="end">LAKO-Antibiotics</text>
<path d="M869.7 1669H878.3M869.7 1595H878.3M869.7 1521H878.3M869.7 1447H878.3M869.7 1373H878.3M869.7 1299H878.3M869.7 1225H878.3M923.9 1669V1679M992.45 1669V1679M1061 1669V1679M1129.55 1669V1679" fill="none" stroke="#000" stroke-width="3"/>
<text transform="translate(815 1447) rotate(-90) scale(0.95 1)" class="r" text-anchor="middle">%</text>
<text transform="translate(1420 1188) scale(0.95 1)" class="tb" text-anchor="middle">20:0</text>
<rect x="1297" y="1397.83" width="43" height="271.17" fill="#0000ff" stroke="#000" stroke-width="2.2"/>
<rect x="1297" y="1307.16" width="43" height="90.67" fill="#ff0000" stroke="#000" stroke-width="2.2"/>
<rect x="1297" y="1299.94" width="43" height="7.23" fill="#00b90a" stroke="#000" stroke-width="2.2"/>
<path d="M1318.5 1299.94V1255.92M1306.2 1255.92H1330.8M1318.5 1299.94V1293.2M1306.2 1293.2H1330.8M1318.5 1299.94V1298.29M1306.2 1298.29H1330.8M1318.5 1397.83V1345.43M1306.2 1345.43H1330.8" fill="none" stroke="#000" stroke-width="2.3"/>
<rect x="1365.55" y="1457.29" width="43" height="211.71" fill="#0000ff" stroke="#000" stroke-width="2.2"/>
<rect x="1365.55" y="1320.47" width="43" height="136.82" fill="#ff0000" stroke="#000" stroke-width="2.2"/>
<rect x="1365.55" y="1305.19" width="43" height="15.28" fill="#00b90a" stroke="#000" stroke-width="2.2"/>
<rect x="1365.55" y="1301.58" width="43" height="3.61" fill="#b414e6" stroke="#000" stroke-width="2.2"/>
<rect x="1365.55" y="1299.94" width="43" height="1.64" fill="#00b90a" stroke="#000" stroke-width="2.2"/>
<path d="M1387.05 1299.94V1275.3M1374.75 1275.3H1399.35M1387.05 1299.94V1296.32M1374.75 1296.32H1399.35M1387.05 1299.94V1298.29M1374.75 1298.29H1399.35M1387.05 1457.29V1409M1374.75 1409H1399.35M1387.05 1320.47V1305.19" fill="none" stroke="#000" stroke-width="2.3"/>
<rect x="1434.1" y="1327.53" width="43" height="341.47" fill="#0000ff" stroke="#000" stroke-width="2.2"/>
<rect x="1434.1" y="1299.94" width="43" height="27.59" fill="#ff0000" stroke="#000" stroke-width="2.2"/>
<path d="M1455.6 1327.53V1266.59M1443.3 1266.59H1467.9M1455.6 1299.94V1292.05M1443.3 1292.05H1467.9M1455.6 1299.94V1296.16M1443.3 1296.16H1467.9" fill="none" stroke="#000" stroke-width="2.3"/>
<rect x="1502.65" y="1320.3" width="43" height="348.7" fill="#0000ff" stroke="#000" stroke-width="2.2"/>
<rect x="1502.65" y="1302.24" width="43" height="18.07" fill="#ff0000" stroke="#000" stroke-width="2.2"/>
<rect x="1502.65" y="1299.94" width="43" height="2.3" fill="#00b90a" stroke="#000" stroke-width="2.2"/>
<path d="M1524.15 1320.3V1271.03M1511.85 1271.03H1536.45M1524.15 1299.94V1290.08M1511.85 1290.08H1536.45M1524.15 1299.94V1292.38M1511.85 1292.38H1536.45" fill="none" stroke="#000" stroke-width="2.3"/>
<path d="M1272.9 1225V1669H1569" fill="none" stroke="#000" stroke-width="3.4" stroke-linecap="square"/>
<text transform="translate(1260.7 1677.3) scale(0.955 1)" class="kb" text-anchor="end">95</text>
<text transform="translate(1260.7 1603.3) scale(0.955 1)" class="kb" text-anchor="end">96</text>
<text transform="translate(1260.7 1529.3) scale(0.955 1)" class="kb" text-anchor="end">97</text>
<text transform="translate(1260.7 1455.3) scale(0.955 1)" class="kb" text-anchor="end">98</text>
<text transform="translate(1260.7 1381.3) scale(0.955 1)" class="kb" text-anchor="end">99</text>
<text transform="translate(1260.7 1307.3) scale(0.955 1)" class="kb" text-anchor="end">100</text>
<text transform="translate(1260.7 1233.3) scale(0.955 1)" class="kb" text-anchor="end">101</text>
<text transform="translate(1323.1 1694.6) rotate(-45) scale(0.95 1)" class="r" text-anchor="end">WT-Saline</text>
<text transform="translate(1391.65 1694.6) rotate(-45) scale(0.95 1)" class="r" text-anchor="end">LAKO-Saline</text>
<text transform="translate(1460.2 1694.6) rotate(-45) scale(0.95 1)" class="r" text-anchor="end">WT-Antibiotics</text>
<text transform="translate(1528.75 1694.6) rotate(-45) scale(0.95 1)" class="r" text-anchor="end">LAKO-Antibiotics</text>
<path d="M1264.3 1669H1272.9M1264.3 1595H1272.9M1264.3 1521H1272.9M1264.3 1447H1272.9M1264.3 1373H1272.9M1264.3 1299H1272.9M1264.3 1225H1272.9M1318.5 1669V1679M1387.05 1669V1679M1455.6 1669V1679M1524.15 1669V1679" fill="none" stroke="#000" stroke-width="3"/>
<text transform="translate(1210 1447) rotate(-90) scale(0.95 1)" class="r" text-anchor="middle">%</text>
<text transform="translate(1815 1188.7) scale(0.95 1)" class="tb" text-anchor="middle">24:0</text>
<rect x="1691.7" y="1353.15" width="43" height="316.45" fill="#0000ff" stroke="#000" stroke-width="2.2"/>
<rect x="1691.7" y="1313.24" width="43" height="39.91" fill="#ff0000" stroke="#000" stroke-width="2.2"/>
<rect x="1691.7" y="1301.09" width="43" height="12.15" fill="#00b90a" stroke="#000" stroke-width="2.2"/>
<path d="M1713.2 1353.15V1273.66M1700.9 1273.66H1725.5M1713.2 1301.09V1291.72M1700.9 1291.72H1725.5M1713.2 1301.09V1299.12M1700.9 1299.12H1725.5M1713.2 1313.24V1308.15M1700.9 1308.15H1725.5" fill="none" stroke="#000" stroke-width="2.3"/>
<rect x="1760.25" y="1341" width="43" height="328.6" fill="#0000ff" stroke="#000" stroke-width="2.2"/>
<rect x="1760.25" y="1324.08" width="43" height="16.92" fill="#ff0000" stroke="#000" stroke-width="2.2"/>
<rect x="1760.25" y="1303.55" width="43" height="20.53" fill="#00b90a" stroke="#000" stroke-width="2.2"/>
<rect x="1760.25" y="1302.24" width="43" height="1.31" fill="#b414e6" stroke="#000" stroke-width="2.2"/>
<rect x="1760.25" y="1301.09" width="43" height="1.15" fill="#00b90a" stroke="#000" stroke-width="2.2"/>
<path d="M1781.75 1341V1289.1M1769.45 1289.1H1794.05M1781.75 1301.09V1298.62M1769.45 1298.62H1794.05M1781.75 1301.09V1300.27M1769.45 1300.27H1794.05M1781.75 1324.08V1308.15M1769.45 1308.15H1794.05" fill="none" stroke="#000" stroke-width="2.3"/>
<rect x="1828.8" y="1309.14" width="43" height="360.46" fill="#0000ff" stroke="#000" stroke-width="2.2"/>
<rect x="1828.8" y="1301.09" width="43" height="8.05" fill="#ff0000" stroke="#000" stroke-width="2.2"/>
<path d="M1850.3 1309.14V1287.13M1838 1287.13H1862.6M1850.3 1301.09V1294.52M1838 1294.52H1862.6M1850.3 1301.09V1297.8M1838 1297.8H1862.6" fill="none" stroke="#000" stroke-width="2.3"/>
<rect x="1897.35" y="1307.99" width="43" height="361.61" fill="#0000ff" stroke="#000" stroke-width="2.2"/>
<rect x="1897.35" y="1301.09" width="43" height="6.9" fill="#ff0000" stroke="#000" stroke-width="2.2"/>
<path d="M1918.85 1301.09V1293.7M1906.55 1293.7H1931.15M1918.85 1301.09V1296.16M1906.55 1296.16H1931.15M1918.85 1301.09V1298.62M1906.55 1298.62H1931.15" fill="none" stroke="#000" stroke-width="2.3"/>
<path d="M1667.6 1226.3V1669.6H1963.5" fill="none" stroke="#000" stroke-width="3.4" stroke-linecap="square"/>
<text transform="translate(1655.4 1677.9) scale(0.955 1)" class="kb" text-anchor="end">95</text>
<text transform="translate(1655.4 1604.02) scale(0.955 1)" class="kb" text-anchor="end">96</text>
<text transform="translate(1655.4 1530.13) scale(0.955 1)" class="kb" text-anchor="end">97</text>
<text transform="translate(1655.4 1456.25) scale(0.955 1)" class="kb" text-anchor="end">98</text>
<text transform="translate(1655.4 1382.37) scale(0.955 1)" class="kb" text-anchor="end">99</text>
<text transform="translate(1655.4 1308.48) scale(0.955 1)" class="kb" text-anchor="end">100</text>
<text transform="translate(1655.4 1234.6) scale(0.955 1)" class="kb" text-anchor="end">101</text>
<text transform="translate(1717.8 1695.2) rotate(-45) scale(0.95 1)" class="r" text-anchor="end">WT-Saline</text>
<text transform="translate(1786.35 1695.2) rotate(-45) scale(0.95 1)" class="r" text-anchor="end">LAKO-Saline</text>
<text transform="translate(1854.9 1695.2) rotate(-45) scale(0.95 1)" class="r" text-anchor="end">WT-Antibiotics</text>
<text transform="translate(1923.45 1695.2) rotate(-45) scale(0.95 1)" class="r" text-anchor="end">LAKO-Antibiotics</text>
<path d="M1659 1669.6H1667.6M1659 1595.72H1667.6M1659 1521.83H1667.6M1659 1447.95H1667.6M1659 1374.07H1667.6M1659 1300.18H1667.6M1659 1226.3H1667.6M1713.2 1669.6V1679.6M1781.75 1669.6V1679.6M1850.3 1669.6V1679.6M1918.85 1669.6V1679.6" fill="none" stroke="#000" stroke-width="3"/>
<text transform="translate(1603 1447) rotate(-90) scale(0.95 1)" class="r" text-anchor="middle">%</text>
<rect x="2017.3" y="1153.25" width="33.2" height="17.3" fill="#00fa14" stroke="#000" stroke-width="2"/>
<text transform="translate(2068.3 1171) scale(0.955 1)" class="m">M24</text>
<rect x="2017.3" y="1193.68" width="33.2" height="17.3" fill="#f6ba7a" stroke="#000" stroke-width="2"/>
<text transform="translate(2068.3 1211.43) scale(0.955 1)" class="m">M22</text>
<rect x="2017.3" y="1234.11" width="33.2" height="17.3" fill="#006400" stroke="#000" stroke-width="2"/>
<text transform="translate(2068.3 1251.86) scale(0.955 1)" class="m">M20</text>
<rect x="2017.3" y="1274.54" width="33.2" height="17.3" fill="#aa0000" stroke="#000" stroke-width="2"/>
<text transform="translate(2068.3 1292.29) scale(0.955 1)" class="m">M18</text>
<rect x="2017.3" y="1314.97" width="33.2" height="17.3" fill="#6e005a" stroke="#000" stroke-width="2"/>
<text transform="translate(2068.3 1332.72) scale(0.955 1)" class="m">M16</text>
<rect x="2017.3" y="1355.4" width="33.2" height="17.3" fill="#00008c" stroke="#000" stroke-width="2"/>
<text transform="translate(2068.3 1373.15) scale(0.955 1)" class="m">M14</text>
<rect x="2017.3" y="1395.83" width="33.2" height="17.3" fill="#a07030" stroke="#000" stroke-width="2"/>
<text transform="translate(2068.3 1413.58) scale(0.955 1)" class="m">M12</text>
<rect x="2017.3" y="1436.26" width="33.2" height="17.3" fill="#000000" stroke="#000" stroke-width="2"/>
<text transform="translate(2068.3 1454.01) scale(0.955 1)" class="m">M10</text>
<rect x="2017.3" y="1476.69" width="33.2" height="17.3" fill="#ff8000" stroke="#000" stroke-width="2"/>
<text transform="translate(2068.3 1494.44) scale(0.955 1)" class="m">M8</text>
<rect x="2017.3" y="1517.12" width="33.2" height="17.3" fill="#b414e6" stroke="#000" stroke-width="2"/>
<text transform="translate(2068.3 1534.87) scale(0.955 1)" class="m">M6</text>
<rect x="2017.3" y="1557.55" width="33.2" height="17.3" fill="#00b90a" stroke="#000" stroke-width="2"/>
<text transform="translate(2068.3 1575.3) scale(0.955 1)" class="m">M4</text>
<rect x="2017.3" y="1597.98" width="33.2" height="17.3" fill="#ff0000" stroke="#000" stroke-width="2"/>
<text transform="translate(2068.3 1615.73) scale(0.955 1)" class="m">M2</text>
<rect x="2017.3" y="1638.41" width="33.2" height="17.3" fill="#0000ff" stroke="#000" stroke-width="2"/>
<text transform="translate(2068.3 1656.16) scale(0.955 1)" class="m">M0</text>
</svg>
</body>
</html>
